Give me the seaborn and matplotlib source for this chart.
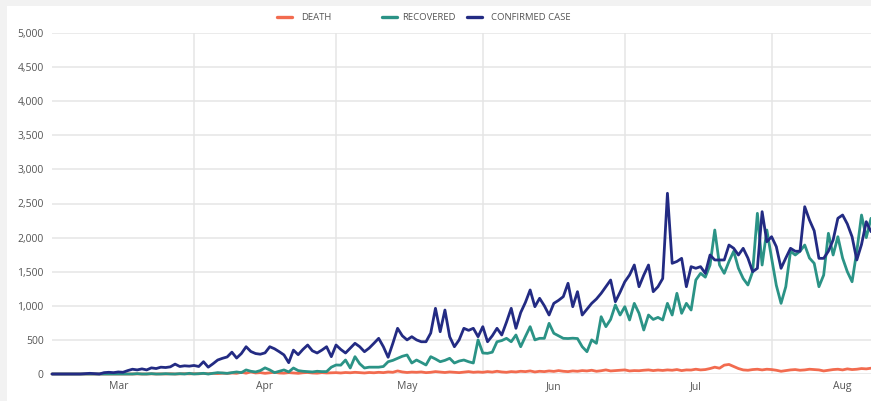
"""Daily COVID-19 counts: deaths, recoveries and confirmed cases."""

import matplotlib
matplotlib.use("Agg")
import matplotlib.dates as mdates
import matplotlib.pyplot as plt
import matplotlib.ticker as mticker
import numpy as np
import pandas as pd
import seaborn as sns
from matplotlib.lines import Line2D
from matplotlib.patches import Rectangle

# Daily values, 2 Mar - 22 Aug
start_date = "2020-03-02"

confirmed = [
    0, 0, 0, 0, 0, 0, 0, 5, 10, 5,
    0, 20, 25, 20, 30, 25, 50, 70, 60, 75,
    60, 90, 80, 100, 95, 105, 145, 110, 120, 115,
    125, 110, 180, 100, 150, 205, 230, 250, 320, 234,
    300, 400, 330, 300, 290, 310, 400, 370, 327, 280,
    166, 350, 283, 360, 425, 340, 308, 350, 400, 254,
    425, 360, 308, 380, 450, 400, 327, 380, 450, 523,
    400, 245, 450, 670, 560, 500, 547, 500, 473, 473,
    600, 963, 620, 938, 547, 400, 500, 670, 640, 670,
    547, 694, 473, 560, 670, 572, 760, 963, 670, 900,
    1050, 1232, 987, 1110, 1000, 865, 1036, 1080, 1134, 1330,
    987, 1207, 865, 950, 1036, 1100, 1183, 1280, 1378, 1060,
    1200, 1353, 1452, 1598, 1280, 1450, 1598, 1207, 1280, 1400,
    2650, 1623, 1650, 1696, 1280, 1574, 1550, 1574, 1476, 1745,
    1672, 1672, 1672, 1891, 1843, 1745, 1843, 1700, 1500, 1550,
    2380, 1940, 2013, 1867, 1550, 1700, 1843, 1800, 1800, 2453,
    2258, 2100, 1696, 1696, 1800, 1965, 2283, 2331, 2200, 2013,
    1672, 1900, 2233, 2087,
]

recovered = [
    0, 0, 0, 0, 0, 0, 0, 0, 0, 0,
    0, 0, 0, 0, 0, 0, 0, 0, 5, 0,
    0, 5, 0, 0, 5, 0, 0, 5, 0, 10,
    0, 5, 10, 0, 10, 20, 15, 10, 20, 30,
    20, 60, 40, 30, 50, 90, 60, 20, 40, 60,
    30, 88, 50, 40, 35, 30, 40, 35, 35, 100,
    132, 130, 205, 88, 254, 150, 88, 100, 100, 100,
    110, 180, 200, 230, 260, 279, 161, 205, 170, 132,
    254, 220, 180, 200, 230, 161, 190, 205, 180, 161,
    500, 308, 303, 320, 473, 490, 523, 473, 572, 400,
    550, 694, 500, 523, 523, 743, 597, 560, 523, 520,
    525, 520, 400, 327, 500, 450, 840, 694, 800, 1012,
    865, 987, 792, 1036, 890, 645, 865, 800, 830, 792,
    1036, 865, 1183, 890, 1036, 938, 1378, 1476, 1420, 1598,
    2111, 1598, 1476, 1650, 1800, 1550, 1400, 1305, 1500, 2356,
    1598, 2111, 1700, 1300, 1036, 1280, 1800, 1745, 1800, 1891,
    1700, 1623, 1280, 1450, 2063, 1745, 2013, 1700, 1500, 1353,
    1800, 2331, 2000, 2283,
]

death = [
    0, 0, 0, 0, 0, 0, 0, 0, 0, 0,
    0, 0, 0, 0, 0, 0, 0, 0, 2, 0,
    0, 3, 0, 2, 0, 4, 0, 3, 5, 2,
    5, 3, 8, 4, 10, 6, 12, 8, 15, 10,
    25, 12, 30, 15, 20, 10, 18, 25, 15, 12,
    20, 15, 10, 18, 22, 15, 12, 20, 15, 18,
    20, 15, 22, 18, 25, 20, 15, 22, 18, 25,
    20, 30, 25, 45, 30, 22, 28, 25, 30, 20,
    25, 35, 28, 22, 30, 25, 20, 28, 35, 25,
    30, 25, 35, 28, 40, 30, 25, 35, 30, 40,
    35, 45, 30, 40, 35, 45, 38, 50, 40, 35,
    45, 40, 50, 45, 55, 40, 48, 60, 45, 50,
    55, 60, 45, 50, 48, 55, 60, 50, 58, 52,
    60, 55, 65, 50, 60, 58, 70, 60, 65, 80,
    100, 85, 130, 140, 110, 80, 60, 55, 65, 70,
    60, 70, 65, 55, 40, 50, 60, 65, 55, 60,
    70, 65, 60, 45, 55, 65, 70, 60, 75, 65,
    70, 80, 75, 85,
]

series_names = ["DEATH", "RECOVERED", "CONFIRMED CASE"]
colors = ["#F26B4F", "#2B9386", "#232B83"]
y_ticks = list(range(0, 5001, 500))

dates = pd.date_range(start_date, periods=len(confirmed), freq="D")
df = pd.DataFrame(
    {"date": dates, "DEATH": death, "RECOVERED": recovered,
     "CONFIRMED CASE": confirmed}
).melt(id_vars="date", var_name="series", value_name="value")

sns.set_style("white")
plt.rcParams["font.family"] = ["Open Sans", "DejaVu Sans"]

fig = plt.figure(figsize=(8.71, 4.01), dpi=100)
fig.patch.set_facecolor("#F2F2F2")
# White card behind the chart
fig.patches.append(Rectangle((7 / 871, 0), 1, 1 - 6 / 401,
                             transform=fig.transFigure, facecolor="white",
                             edgecolor="none", zorder=-5))

ax = fig.add_axes([52 / 871, 27 / 401, 819 / 871, 341 / 401])
ax.set_facecolor("white")
ax.set_zorder(1)

sns.lineplot(
    data=df, x="date", y="value", hue="series", hue_order=series_names,
    palette=colors, linewidth=2.0, legend=False, ax=ax,
)
for line in ax.lines:
    line.set_clip_on(False)
    line.set_solid_joinstyle("round")

ax.set_xlim(dates[0], dates[-1])
ax.set_ylim(0, 5000)
ax.set_yticks(y_ticks)
ax.yaxis.set_major_formatter(mticker.FuncFormatter(lambda v, _: f"{int(v):,}"))

# Grid at month starts, labels centred mid-month
ax.xaxis.set_major_locator(mdates.MonthLocator())
ax.xaxis.set_major_formatter(mticker.NullFormatter())
ax.xaxis.set_minor_locator(mdates.MonthLocator(bymonthday=16))
ax.xaxis.set_minor_formatter(mdates.DateFormatter("%b"))

ax.grid(True, which="major", color="#E5E5E5", linewidth=1.1)
ax.set_axisbelow(True)
ax.tick_params(axis="both", which="both", length=0, colors="#555555",
               labelsize=7.5, pad=5)
ax.tick_params(axis="y", pad=6)
ax.set_xlabel("")
ax.set_ylabel("")
for spine in ax.spines.values():
    spine.set_visible(False)

# Legend across the top
legend_pos = [(277, 301), (382, 402), (467, 491)]
for (hx, tx), name, color in zip(legend_pos, series_names, colors):
    y = 1 - 17 / 401
    fig.add_artist(Line2D([hx / 871, (hx + 15) / 871], [y, y], color=color,
                          linewidth=2.4, transform=fig.transFigure))
    fig.text(tx / 871, y, name, fontsize=6.8, color="#555555",
             va="center", ha="left")

fig.savefig("out.png", dpi=100)
